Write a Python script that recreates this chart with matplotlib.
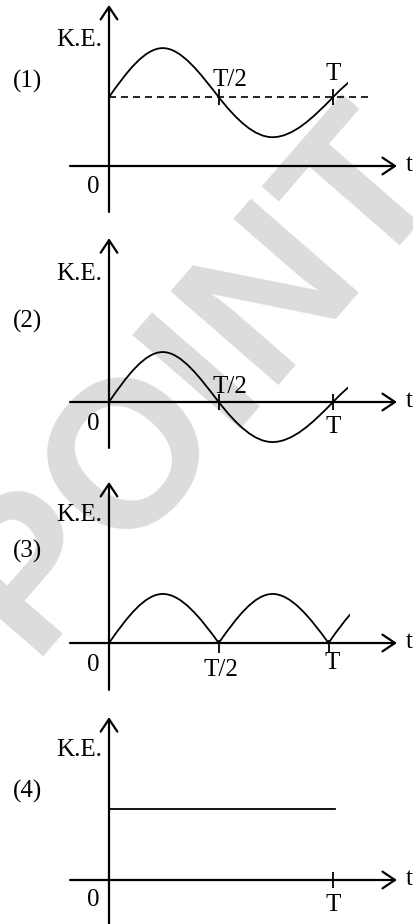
"""Kinetic energy vs time: four candidate graphs (1)-(4)."""

import matplotlib

matplotlib.use("Agg")

import matplotlib.pyplot as plt
import numpy as np
from matplotlib.patches import PathPatch, Rectangle
from matplotlib.path import Path

plt.rcParams["font.family"] = ["Liberation Serif", "DejaVu Serif"]

# time in units of the period T, K.E. in arbitrary units
t_wave = [0.0, 0.24, 0.49, 0.73, 1.0, 1.24]
ke_panel1 = [1.53, 2.62, 1.53, 0.64, 1.53, 2.62]
ke_panel2 = [0.0, 1.11, 0.0, -0.89, 0.0, 1.11]
t_arches = [[0.0, 0.24, 0.49], [0.49, 0.73, 0.98], [0.98, 1.22, 1.47]]
ke_arches = [[0.0, 1.09, 0.0], [0.0, 1.09, 0.0], [0.0, 1.09, 0.0]]
t_panel4 = [0.0, 1.01]
ke_panel4 = [1.58, 1.58]

mean_panel1 = 1.53
t_mean_line = [0.0, 1.156]
curve_end = [1.067, 1.067, 1.076]

tick_t = [[0.49, 1.0], [0.49, 1.0], [0.49, 0.98], [1.0]]
tick_level = [mean_panel1, 0.0, 0.0, 0.0]
tick_labels = [["T/2", "T"], ["T/2", "T"], ["T/2", "T"], ["T"]]
# label positions (t, K.E.) per panel
tick_label_pos = [
    [(0.54, 1.92), (1.0, 2.05)],
    [(0.54, 0.34), (1.0, -0.55)],
    [(0.50, -0.60), (0.995, -0.44)],
    [(1.0, -0.55)],
]
panel_names = ["(1)", "(2)", "(3)", "(4)"]
name_y = [1.88, 1.80, 2.04, 1.96]
ke_label_y = [2.80, 2.85, 2.85, 2.89]
zero_label_y = [-0.46, -0.48, -0.48, -0.44]
yaxis_span = [(-1.02, 3.58), (-1.02, 3.64), (-1.04, 3.58), (-1.2, 3.62)]
# pixel row of the t-axis inside each 231 px tall panel
axis_row = [166, 171, 181, 187]

PX = 45.0  # pixels per K.E. unit
PT = 224.0  # pixels per period
FIG_W, FIG_H = 414, 924
PANEL_H = FIG_H / 4
FS = 18

# tick shapes: crossing ticks and (panel 3) ticks hanging below the axis
CROSS_TICK = dict(marker="|", markersize=11.5)
DOWN_TICK = dict(marker=Path([(0, 0.3), (0, -1.0)]), markersize=14)
tick_style = [CROSS_TICK, CROSS_TICK, DOWN_TICK, CROSS_TICK]


def sine_slopes(xs, ys):
    sec = np.diff(ys) / np.diff(xs)
    n = len(xs)
    ms = np.zeros(n)
    ms[0] = np.pi / 2 * sec[0]
    for i in range(1, n - 1):
        if sec[i - 1] * sec[i] < 0:
            ms[i] = 0.0
        elif i == n - 2:
            ms[i] = np.pi / 2 * sec[i - 1]
        else:
            ms[i] = np.pi / 2 * (ys[i + 1] - ys[i - 1]) / (xs[i + 1] - xs[i - 1])
    ms[-1] = ms[-2] if ms[-2] != 0 else np.pi / 2 * sec[-1]
    return ms


def smooth_curve(ax, xs, ys, t_stop=None):
    ms = sine_slopes(xs, ys)
    verts = [(xs[0], ys[0])]
    codes = [Path.MOVETO]
    for i in range(len(xs) - 1):
        dx = xs[i + 1] - xs[i]
        verts += [
            (xs[i] + dx / 3, ys[i] + ms[i] * dx / 3),
            (xs[i + 1] - dx / 3, ys[i + 1] - ms[i + 1] * dx / 3),
            (xs[i + 1], ys[i + 1]),
        ]
        codes += [Path.CURVE4] * 3
    patch = PathPatch(Path(verts, codes), facecolor="none", edgecolor="black",
                      lw=1.3, zorder=3, capstyle="butt")
    ax.add_patch(patch)
    if t_stop is not None:
        clip = Rectangle((-1.0, -5.0), 1.0 + t_stop, 10.0, transform=ax.transData)
        patch.set_clip_path(clip)


def arrow(ax, start, end):
    ax.annotate("", xy=end, xytext=start,
                arrowprops=dict(arrowstyle="->,head_length=0.9,head_width=0.6",
                                lw=1.6, color="black", shrinkA=0, shrinkB=0,
                                mutation_scale=10), zorder=4)


fig = plt.figure(figsize=(FIG_W / 100, FIG_H / 100), dpi=100)

fig.text(198 / FIG_W, 1 - 380 / FIG_H, "POINT", rotation=49, ha="center", va="center",
         fontsize=150, fontweight="bold", family="Liberation Sans", color="#dcdcdc",
         zorder=-5)

axes = []
for k in range(4):
    ax = fig.add_axes([0, 1 - (k + 1) * PANEL_H / FIG_H, 1, PANEL_H / FIG_H])
    ax.set_facecolor("none")
    ax.axis("off")
    ax.set_xlim(-109 / PT, (FIG_W - 109) / PT)
    ax.set_ylim(-(PANEL_H - axis_row[k]) / PX, axis_row[k] / PX)
    axes.append(ax)

    arrow(ax, (-39 / PT, 0.0), (288 / PT, 0.0))
    arrow(ax, (0.0, yaxis_span[k][0]), (0.0, yaxis_span[k][1]))
    ax.text(300 / PT, 0.03, "t", ha="center", va="center", fontsize=FS)
    ax.text(-7 / PT, ke_label_y[k], "K.E.", ha="right", va="center", fontsize=FS)
    ax.text(-81 / PT, name_y[k], panel_names[k], ha="center", va="center", fontsize=FS)
    ax.text(-16 / PT, zero_label_y[k], "0", ha="center", va="center", fontsize=FS)

    ax.plot(tick_t[k], [tick_level[k]] * len(tick_t[k]), ls="none",
            markeredgewidth=1.3, markeredgecolor="black", color="black", zorder=4,
            **tick_style[k])
    for label, (tx, ty) in zip(tick_labels[k], tick_label_pos[k]):
        ax.text(tx, ty, label, ha="center", va="center", fontsize=FS)

# (1) K.E. oscillating about a mean value
ax = axes[0]
ax.plot(t_mean_line, [mean_panel1] * 2, color="black", lw=1.2, dashes=(4.2, 3.0), zorder=2)
smooth_curve(ax, t_wave, ke_panel1, curve_end[0])

# (2) sinusoidal about zero
smooth_curve(axes[1], t_wave, ke_panel2, curve_end[1])

# (3) rectified arches
for ts, ks in zip(t_arches, ke_arches):
    smooth_curve(axes[2], ts, ks, curve_end[2])

# (4) constant
axes[3].plot(t_panel4, ke_panel4, color="black", lw=1.3, zorder=3)

fig.savefig("out.png", dpi=100)
